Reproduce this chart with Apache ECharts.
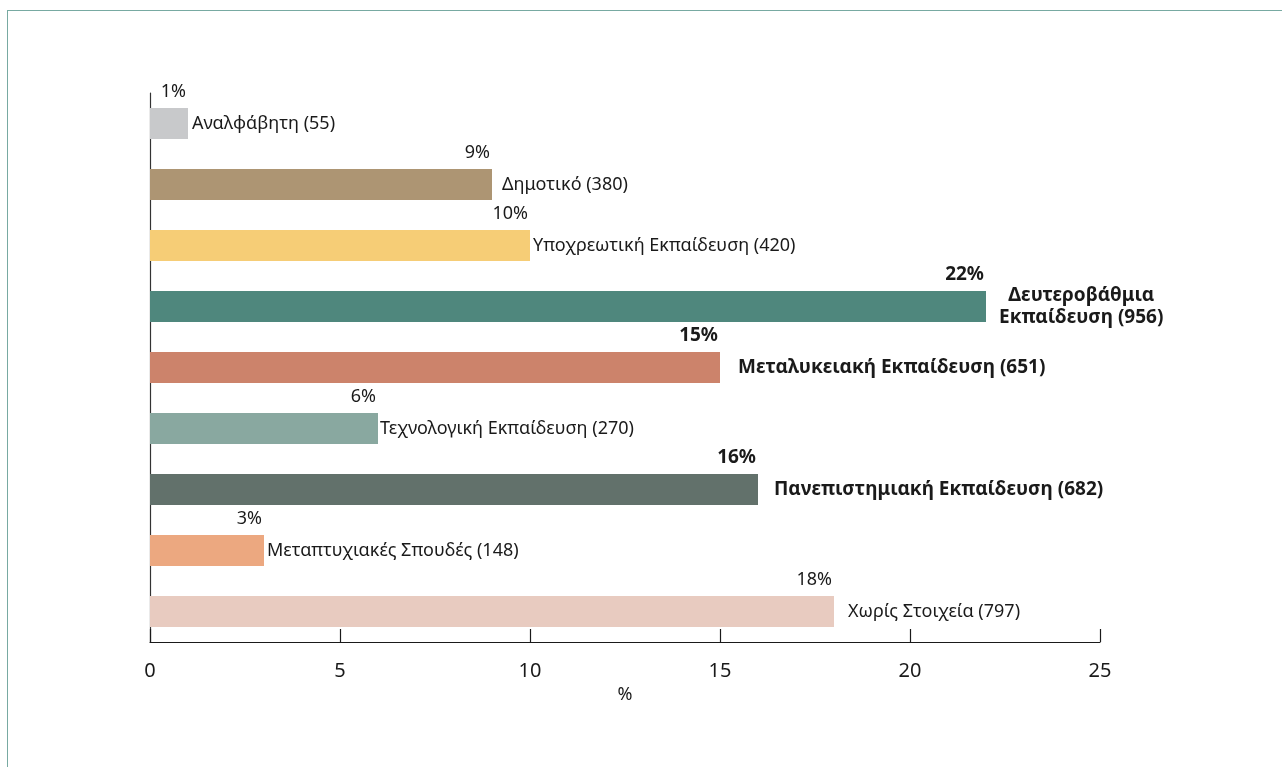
<!DOCTYPE html>
<html>
<head>
<meta charset="utf-8">
<script src="https://cdn.jsdelivr.net/npm/echarts@6/dist/echarts.min.js"></script>
<style>
  html, body { margin: 0; padding: 0; width: 1282px; height: 767px; overflow: hidden; background: #fff; }
  #frame { position: absolute; left: 7px; top: 10px; width: 1300px; height: 800px; border: 1.5px solid #78aaa2; box-sizing: border-box; }
  #chart { position: absolute; left: 0; top: 0; width: 1282px; height: 767px; }
</style>
</head>
<body>
<div id="frame"></div>
<div id="chart"></div>
<script>
// ---- data ----
const categories = [
  'Αναλφάβητη',
  'Δημοτικό',
  'Υποχρεωτική Εκπαίδευση',
  'Δευτεροβάθμια\nΕκπαίδευση',
  'Μεταλυκειακή Εκπαίδευση',
  'Τεχνολογική Εκπαίδευση',
  'Πανεπιστημιακή Εκπαίδευση',
  'Μεταπτυχιακές Σπουδές',
  'Χωρίς Στοιχεία'
];
const counts = [55, 380, 420, 956, 651, 270, 682, 148, 797];
const percents = [1, 9, 10, 22, 15, 6, 16, 3, 18];
const xTicks = [0, 5, 10, 15, 20, 25];

// ---- styles ----
const colors = ['#c8c9cb', '#ad9573', '#f6cd76', '#4f877d', '#cc836b', '#89a8a0', '#62716b', '#eca880', '#e8cbc0'];
const emphasised = [false, false, false, true, true, false, true, false, false];
const nameDistance = [4, 10, 3, 13, 18, 2, 16, 3, 14];
const FONT = '"Noto Sans", "Open Sans", sans-serif';
const TEXT = '#1a1a1a';

const chart = echarts.init(document.getElementById('chart'), null, { renderer: 'canvas' });

const barData = percents.map((v, i) => ({
  value: v,
  itemStyle: { color: colors[i] },
  label: {
    distance: nameDistance[i],
    fontWeight: emphasised[i] ? 'bold' : 'normal',
    fontSize: emphasised[i] ? 19 : 18
  }
}));

const pctData = percents.map((v, i) => ({
  value: v,
  label: {
    fontWeight: emphasised[i] ? 'bold' : 'normal',
    fontSize: emphasised[i] ? 19 : 18
  }
}));

chart.setOption({
  animation: false,
  textStyle: { fontFamily: FONT },
  grid: { left: 150, right: 182, top: 93, bottom: 125, containLabel: false },
  xAxis: {
    type: 'value',
    min: xTicks[0],
    max: xTicks[xTicks.length - 1],
    interval: xTicks[1] - xTicks[0],
    name: '%',
    nameLocation: 'middle',
    nameGap: 39,
    nameTextStyle: { fontSize: 18, color: TEXT, fontFamily: FONT },
    axisLine: { show: true, lineStyle: { color: '#1a1a1a', width: 1.2 } },
    axisTick: { show: true, inside: true, length: 13, lineStyle: { color: '#1a1a1a', width: 1.2 } },
    axisLabel: { fontSize: 20, color: TEXT, margin: 19, fontFamily: FONT },
    splitLine: { show: false }
  },
  yAxis: {
    type: 'category',
    data: categories,
    inverse: true,
    axisLine: { show: true, lineStyle: { color: '#333', width: 1.2 } },
    axisTick: { show: false },
    axisLabel: { show: false },
    splitLine: { show: false }
  },
  series: [
    {
      type: 'bar',
      data: barData,
      barWidth: 31,
      label: {
        show: true,
        position: 'right',
        color: TEXT,
        fontSize: 18,
        fontFamily: FONT,
        formatter: (p) => {
          const i = p.dataIndex;
          const text = categories[i] + ' (' + counts[i] + ')';
          if (text.indexOf('\n') >= 0) {
            return text.split('\n').map(s => '{c|' + s + '}').join('\n');
          }
          return text;
        },
        rich: {
          c: { align: 'center', fontWeight: 'bold', fontSize: 19, color: TEXT, fontFamily: FONT, lineHeight: 22 }
        }
      },
      z: 2
    },
    {
      type: 'bar',
      data: pctData,
      barWidth: 31,
      barGap: '-100%',
      itemStyle: { color: 'rgba(0,0,0,0)' },
      label: {
        show: true,
        position: ['100%', 0],
        align: 'right',
        verticalAlign: 'bottom',
        offset: [-2, -7],
        color: TEXT,
        fontSize: 18,
        fontFamily: FONT,
        formatter: (p) => p.value + '%'
      },
      z: 3
    }
  ]
});
</script>
</body>
</html>
